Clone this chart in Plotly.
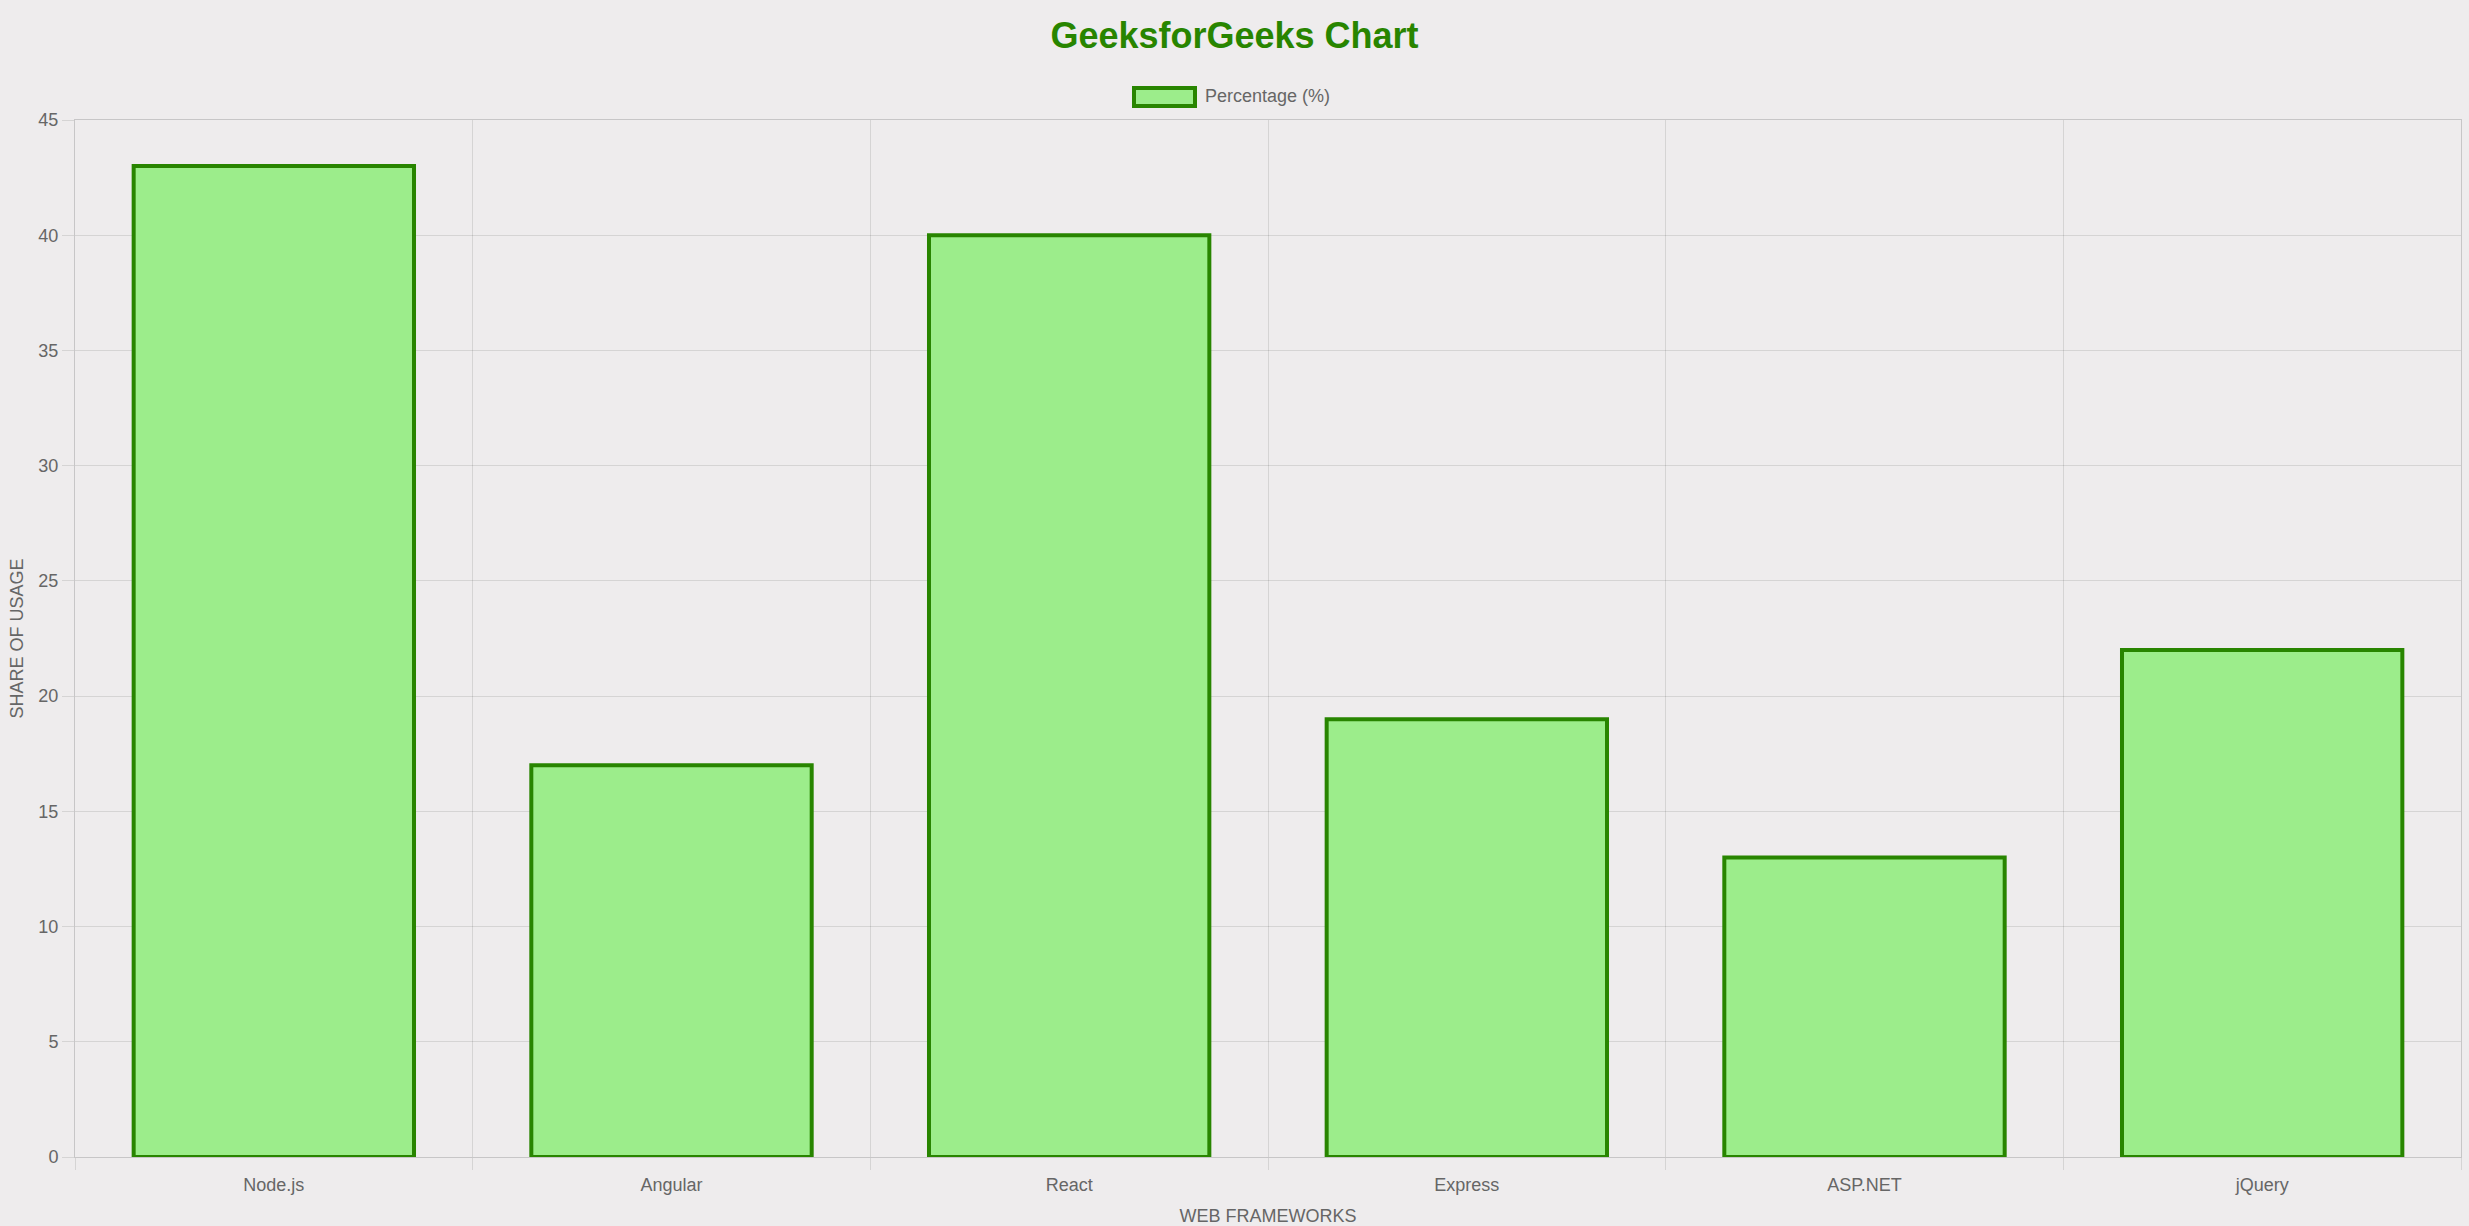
import plotly.graph_objects as go

categories = ["Node.js", "Angular", "React", "Express", "ASP.NET", "jQuery"]
percentages = [43, 17, 40, 19, 13, 22]
series_name = "Percentage (%)"
y_ticks = [0, 5, 10, 15, 20, 25, 30, 35, 40, 45]

FILL = "#9CED8B"
EDGE = "#288500"
BG = "#EEECED"
GRID = "rgba(0,0,0,0.1)"
AXIS = "rgba(0,0,0,0.16)"
TXT = "#666666"
FONT = "Liberation Sans, Arial, sans-serif"

W, H = 2469, 1226
L, R, T, B = 75, 8, 120, 69
pw, ph = W - L - R, H - T - B

def px_x(px):
    return (px - L) / pw

def px_y(py):
    return (H - B - py) / ph

fig = go.Figure()
fig.add_trace(go.Bar(
    x=categories, y=percentages, name=series_name,
    marker=dict(color=FILL, line=dict(color=EDGE, width=4)),
    width=0.705, showlegend=False,
))

# legend drawn as box + label (Chart.js style wide swatch)
fig.add_shape(type="rect", xref="paper", yref="paper",
              x0=px_x(1134), x1=px_x(1195), y0=px_y(106), y1=px_y(88),
              fillcolor=FILL, line=dict(color=EDGE, width=4))
fig.add_annotation(xref="paper", yref="paper", x=px_x(1203), y=px_y(96),
                   xanchor="left", yanchor="middle", showarrow=False,
                   text=series_name, font=dict(family=FONT, size=18, color=TXT))

fig.update_layout(
    width=W, height=H,
    paper_bgcolor=BG, plot_bgcolor=BG,
    margin=dict(l=L, r=R, t=T, b=B, autoexpand=False),
    font=dict(family=FONT, size=18, color=TXT),
    title=dict(text="GeeksforGeeks Chart", x=0.5, xanchor="center",
               y=1 - 35 / H, yanchor="middle",
               font=dict(family=FONT, size=36, color=EDGE, weight=700)),
)
fig.update_xaxes(
    type="category", tickson="boundaries",
    showgrid=True, gridcolor=GRID, gridwidth=1,
    ticks="outside", ticklen=12, tickcolor=GRID,
    showline=True, linecolor=AXIS, linewidth=1, mirror=True,
    tickfont=dict(size=18, color=TXT), ticklabelstandoff=11,
    title=dict(text="WEB FRAMEWORKS", font=dict(size=18, color=TXT), standoff=15),
    automargin=False,
)
fig.update_yaxes(
    range=[0, 45], tickvals=y_ticks,
    showgrid=True, gridcolor=GRID, gridwidth=1, zeroline=False,
    ticks="outside", ticklen=12, tickcolor=GRID,
    showline=True, linecolor=AXIS, linewidth=1, mirror=True,
    tickfont=dict(size=18, color=TXT),
    title=dict(text="SHARE OF USAGE", font=dict(size=18, color=TXT), standoff=10),
    automargin=False,
)

fig.write_html(
    "out.html",
    config={"displayModeBar": False},
    post_script="document.body.style.margin='0';document.body.style.overflow='hidden';"
                "document.body.style.background='#EEECED';",
)
